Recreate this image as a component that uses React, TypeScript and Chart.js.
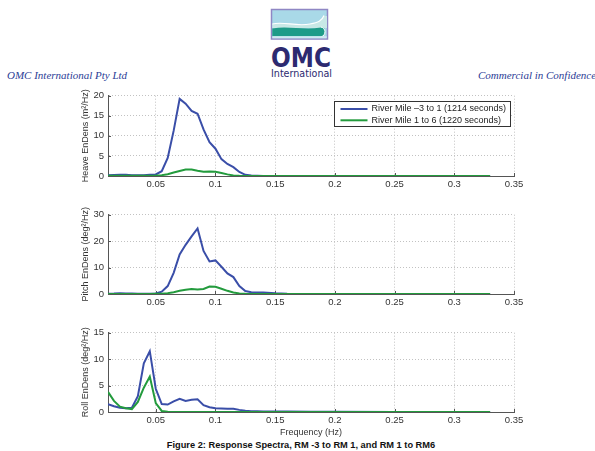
import { useEffect, useRef } from 'react';
import { Chart, registerables } from 'chart.js';

Chart.register(...registerables);

// ---- Data ----
const frequency = [
  0.01, 0.015, 0.02, 0.025, 0.03, 0.035, 0.04, 0.045, 0.05, 0.055, 0.06, 0.065,
  0.07, 0.075, 0.08, 0.085, 0.09, 0.095, 0.1, 0.105, 0.11, 0.115, 0.12, 0.125,
  0.13, 0.135, 0.14, 0.15, 0.16, 0.18, 0.2, 0.25, 0.3, 0.33,
];

const heaveRm3to1 = [
  0.2, 0.25, 0.3, 0.3, 0.2, 0.2, 0.2, 0.3, 0.4, 1.2, 4.5, 11.3,
  19.2, 18.0, 16.2, 15.5, 11.6, 8.4, 6.8, 4.2, 3.0, 2.2, 1.0, 0.3,
  0.1, 0.05, 0.03, 0.02, 0, 0, 0, 0, 0, 0,
];
const heaveRm1to6 = [
  0.05, 0.05, 0.05, 0.05, 0.05, 0.05, 0.05, 0.05, 0.1, 0.2, 0.45, 0.85,
  1.25, 1.6, 1.6, 1.3, 1.05, 1.1, 1.05, 0.75, 0.4, 0.15, 0.05, 0.02,
  0, 0, 0, 0, 0, 0, 0, 0, 0, 0,
];

const pitchRm3to1 = [
  0.1, 0.15, 0.3, 0.2, 0.15, 0.1, 0.1, 0.1, 0.2, 0.9, 3.0, 8.0,
  15.0, 18.6, 21.8, 24.8, 16.3, 12.3, 12.7, 10.3, 7.8, 6.4, 3.0, 1.1,
  0.7, 0.6, 0.6, 0.25, 0.05, 0, 0, 0, 0, 0,
];
const pitchRm1to6 = [
  0.02, 0.02, 0.02, 0.02, 0.02, 0.02, 0.02, 0.02, 0.05, 0.1, 0.3, 0.7,
  1.2, 1.6, 1.9, 1.7, 1.9, 2.8, 2.7, 2.0, 1.2, 0.6, 0.2, 0.05,
  0, 0, 0, 0, 0, 0, 0, 0, 0, 0,
];

const rollRm3to1 = [
  1.5, 1.1, 0.8, 0.7, 0.8, 3.0, 9.2, 11.5, 4.4, 1.5, 1.4, 2.0,
  2.5, 2.1, 2.3, 2.4, 1.3, 0.9, 0.7, 0.65, 0.6, 0.6, 0.4, 0.25,
  0.15, 0.12, 0.1, 0.1, 0.08, 0.05, 0.03, 0.02, 0.01, 0.01,
];
const rollRm1to6 = [
  3.8, 2.1, 1.0, 0.7, 0.55, 1.9, 4.6, 6.7, 1.7, 0.2, 0.05, 0,
  0, 0, 0, 0, 0, 0, 0, 0, 0, 0, 0, 0,
  0, 0, 0, 0, 0, 0, 0, 0, 0, 0,
];

const xTicks = [0.05, 0.1, 0.15, 0.2, 0.25, 0.3, 0.35];
const xTickLabels = ['0.05', '0.1', '0.15', '0.2', '0.25', '0.3', '0.35'];
const heaveTicks = [0, 5, 10, 15, 20];
const pitchTicks = [0, 10, 20, 30];
const rollTicks = [0, 5, 10, 15];

const seriesLabels = ['River Mile \u20133 to 1 (1214 seconds)', 'River Mile 1 to 6 (1220 seconds)'];
const seriesColors = ['#3a4ea8', '#239b3d'];

const FONT = "'Liberation Sans', Arial, Helvetica, sans-serif";

// ---- Plugins ----
const innerTicks = {
  id: 'innerTicks',
  beforeDatasetsDraw(chart: any) {
    const { ctx, chartArea, scales } = chart;
    ctx.save();
    ctx.strokeStyle = '#555';
    ctx.lineWidth = 1;
    ctx.beginPath();
    scales.x.ticks.forEach((t: any) => {
      const px = Math.round(scales.x.getPixelForValue(t.value)) + 0.5;
      ctx.moveTo(px, chartArea.bottom);
      ctx.lineTo(px, chartArea.bottom - 3);
    });
    scales.y.ticks.forEach((t: any) => {
      const py = Math.round(scales.y.getPixelForValue(t.value)) + 0.5;
      ctx.moveTo(chartArea.left, py);
      ctx.lineTo(chartArea.left + 3, py);
    });
    ctx.stroke();
    ctx.restore();
  },
};

const boxLegend = {
  id: 'boxLegend',
  afterDraw(chart: any, _args: any, opts: any) {
    if (!opts || !opts.display) return;
    const { ctx, chartArea } = chart;
    ctx.save();
    ctx.font = `9px ${FONT}`;
    const labels = chart.data.datasets.map((d: any) => d.label);
    const textW = Math.max(...labels.map((l: string) => ctx.measureText(l).width));
    const w = Math.round(6 + 27 + 4 + textW + 4);
    const h = 25;
    const right = chartArea.right - 4;
    const left = Math.round(right - w) + 0.5;
    const top = Math.round(chartArea.top + 5) + 0.5;
    ctx.fillStyle = '#fff';
    ctx.fillRect(left, top, w, h);
    ctx.strokeStyle = '#333';
    ctx.lineWidth = 1;
    ctx.strokeRect(left, top, w, h);
    chart.data.datasets.forEach((d: any, i: number) => {
      const y = top + 7.5 + i * 11.3;
      ctx.strokeStyle = d.borderColor;
      ctx.lineWidth = 2;
      ctx.beginPath();
      ctx.moveTo(left + 6, y);
      ctx.lineTo(left + 33, y);
      ctx.stroke();
      ctx.fillStyle = '#222';
      ctx.textBaseline = 'middle';
      ctx.textAlign = 'left';
      ctx.fillText(d.label, left + 37, y);
    });
    ctx.restore();
  },
};

type Cfg = {
  blue: number[];
  green: number[];
  yTicks: number[];
  yTitle: string;
  legend: boolean;
  xTitle: string;
  xHeight: number;
};

function makeConfig(c: Cfg): any {
  const gridOpts = { color: '#c2c2c2', drawTicks: false, lineWidth: 1 };
  const borderOpts = { display: true, color: '#555', width: 1, dash: [1, 2] };
  return {
    type: 'line',
    data: {
      datasets: [
        {
          label: seriesLabels[0],
          data: frequency.map((f, i) => ({ x: f, y: c.blue[i] })),
          borderColor: seriesColors[0],
          backgroundColor: seriesColors[0],
          borderWidth: 2,
          pointRadius: 0,
          tension: 0,
          fill: false,
          order: 1,
        },
        {
          label: seriesLabels[1],
          data: frequency.map((f, i) => ({ x: f, y: c.green[i] })),
          borderColor: seriesColors[1],
          backgroundColor: seriesColors[1],
          borderWidth: 2,
          pointRadius: 0,
          tension: 0,
          fill: false,
          order: 0,
        },
      ],
    },
    options: {
      animation: false,
      responsive: false,
      events: [],
      layout: { padding: { left: 80, top: 8, right: 81, bottom: 0 } },
      plugins: {
        legend: { display: false },
        tooltip: { enabled: false },
        boxLegend: { display: c.legend },
      },
      scales: {
        x: {
          type: 'linear',
          min: 0.01,
          max: 0.35,
          afterBuildTicks: (s: any) => {
            s.ticks = xTicks.map((v) => ({ value: v }));
          },
          afterFit: (s: any) => {
            s.height = c.xHeight;
          },
          ticks: {
            autoSkip: false,
            maxRotation: 0,
            padding: 2.5,
            color: '#333',
            font: { family: FONT, size: 9.5 },
            callback: (v: number) => {
              const i = xTicks.indexOf(v);
              return i >= 0 ? xTickLabels[i] : '';
            },
          },
          grid: gridOpts,
          border: borderOpts,
          title: c.xTitle
            ? {
                display: true,
                text: c.xTitle,
                color: '#333',
                font: { family: FONT, size: 9 },
                padding: { top: 0, bottom: 0 },
              }
            : { display: false },
        },
        y: {
          type: 'linear',
          min: 0,
          max: c.yTicks[c.yTicks.length - 1],
          afterBuildTicks: (s: any) => {
            s.ticks = c.yTicks.map((v) => ({ value: v }));
          },
          afterFit: (s: any) => {
            s.width = 28;
          },
          ticks: {
            padding: 4,
            color: '#333',
            font: { family: FONT, size: 9.5 },
          },
          grid: gridOpts,
          border: borderOpts,
          title: {
            display: true,
            text: c.yTitle,
            color: '#333',
            font: { family: FONT, size: 9 },
            padding: { top: 0, bottom: 0 },
          },
        },
      },
    },
    plugins: [innerTicks, boxLegend],
  };
}

function SpectrumChart({ top, height, cfg }: { top: number; height: number; cfg: Cfg }) {
  const ref = useRef<HTMLCanvasElement | null>(null);
  useEffect(() => {
    if (!ref.current) return;
    const chart = new Chart(ref.current, makeConfig(cfg));
    return () => chart.destroy();
  }, []);
  return (
    <canvas
      ref={ref}
      width={595}
      height={height}
      style={{ position: 'absolute', left: 0, top, width: 595, height, display: 'block' }}
    />
  );
}

function Logo() {
  return (
    <svg
      width={595}
      height={90}
      viewBox="0 0 595 90"
      style={{ position: 'absolute', left: 0, top: 0 }}
    >
      <rect x={271.5} y={9.5} width={56} height={29.5} fill="#a9d9e8" stroke="#8f87c4" strokeWidth={1.5} />
      <path d="M272.3 24 C 284 21, 296 27, 310 24 C 318 22.5, 322 21, 324 16 L 327 16 L 327 28 L 272.3 28 Z" fill="#c8e8e6" />
      <path d="M272.3 28.5 C 288 25.5, 304 30.5, 321 27.5 C 324 27, 325 29, 325 31 C 325 34, 324 36, 321 36.2 L 272.3 36.2 Z" fill="#1e9b88" />
      <path d="M272.3 24 C 284 21, 296 27, 310 24 C 318 22.5, 322 21, 324 15.5" fill="none" stroke="#ffffff" strokeWidth={1.2} />
      <path d="M321 27 C 326 28, 326.5 35, 321 37.2" fill="none" stroke="#ffffff" strokeWidth={1} />
      <rect x={272.3} y={36.2} width={54.4} height={2.1} fill="#cfe9f0" />
      <text
        x={271}
        y={67}
        fontFamily="'DejaVu Sans', sans-serif"
        fontWeight="bold"
        fontSize={27}
        fill="#2d2a70"
        textLength={60}
        lengthAdjust="spacingAndGlyphs"
      >
        OMC
      </text>
      <text
        x={271}
        y={77}
        fontFamily="'DejaVu Sans', sans-serif"
        fontSize={10.5}
        fill="#2d2a70"
        textLength={61}
        lengthAdjust="spacingAndGlyphs"
      >
        International
      </text>
    </svg>
  );
}

const heaveCfg: Cfg = {
  blue: heaveRm3to1,
  green: heaveRm1to6,
  yTicks: heaveTicks,
  yTitle: 'Heave EnDens (m\u00b2/Hz)',
  legend: true,
  xTitle: '',
  xHeight: 16,
};
const pitchCfg: Cfg = {
  blue: pitchRm3to1,
  green: pitchRm1to6,
  yTicks: pitchTicks,
  yTitle: 'Pitch EnDens (deg\u00b2/Hz)',
  legend: false,
  xTitle: '',
  xHeight: 16,
};
const rollCfg: Cfg = {
  blue: rollRm3to1,
  green: rollRm1to6,
  yTicks: rollTicks,
  yTitle: 'Roll EnDens (deg\u00b2/Hz)',
  legend: false,
  xTitle: 'Frequency (Hz)',
  xHeight: 26,
};

export default function App() {
  const headerText = {
    position: 'absolute' as const,
    top: 68,
    font: "italic 11px 'Liberation Serif', 'Times New Roman', serif",
    lineHeight: '14px',
    color: '#2b3d96',
    whiteSpace: 'nowrap' as const,
  };
  return (
    <div
      style={{
        position: 'absolute',
        left: 0,
        top: 0,
        width: 595,
        height: 451,
        background: '#fff',
        overflow: 'hidden',
      }}
    >
      <Logo />
      <div style={{ ...headerText, left: 7 }}>OMC International Pty Ltd</div>
      <div style={{ ...headerText, left: 478 }}>Commercial in Confidence</div>
      <SpectrumChart top={86} height={106} cfg={heaveCfg} />
      <SpectrumChart top={205} height={105} cfg={pitchCfg} />
      <SpectrumChart top={323} height={115} cfg={rollCfg} />
      <div
        style={{
          position: 'absolute',
          left: 0,
          top: 439.5,
          width: 602,
          textAlign: 'center',
          font: `bold 9.25px ${FONT}`,
          lineHeight: '11px',
          color: '#111',
          whiteSpace: 'nowrap',
        }}
      >
        Figure 2: Response Spectra, RM -3 to RM 1, and RM 1 to RM6
      </div>
    </div>
  );
}
